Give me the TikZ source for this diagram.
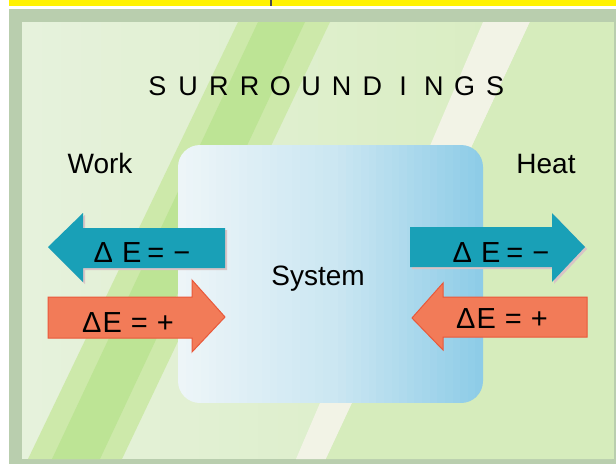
\documentclass[tikz,border=0pt]{standalone}
\usepackage{fontspec}
\setmainfont{Liberation Sans}
\definecolor{frameGreen}{HTML}{B9CEAE}
\definecolor{bgLeft}{HTML}{E6F2DC}
\definecolor{bgRight}{HTML}{D6ECBC}
\definecolor{bandGreen}{HTML}{BDE495}
\definecolor{bandSoft}{HTML}{CDE9AA}
\definecolor{wedgeWhite}{HTML}{F2F3E6}
\definecolor{sysLeft}{HTML}{EDF5F8}
\definecolor{sysMid}{HTML}{CCE7F2}
\definecolor{sysRight}{HTML}{8ECCE7}
\definecolor{tealArrow}{HTML}{19A0B7}
\definecolor{redArrow}{HTML}{F27B58}
\definecolor{redEdge}{HTML}{E9583A}
\definecolor{shadowPink}{HTML}{D8C4C6}
\begin{document}
\begin{tikzpicture}[x=1pt,y=-1pt,
  lbl/.style={font=\fontsize{28}{30}\selectfont, inner sep=0pt, anchor=base, text=black},
  arrowlbl/.style={font=\fontsize{29}{30}\selectfont, inner sep=0pt, anchor=base, text=black},
  tealfill/.style={fill=tealArrow, draw=none},
  redfill/.style={fill=redArrow, draw=redEdge, line width=1pt},
  shadowfill/.style={fill=shadowPink, draw=none}]
\useasboundingbox (0,0) rectangle (616,464);
% page and frame
\fill[white] (0,0) rectangle (616,464);
\fill[yellow] (9,0) rectangle (616,6);
\fill[black!70] (270,0) rectangle (272,6);
\fill[frameGreen] (9,9) rectangle (616,464);
% background picture: left-to-right gradient made of strips
\foreach \k in {0,...,29}{
  \pgfmathsetmacro{\pc}{100-\k*100/29}
  \fill[bgLeft!\pc!bgRight] ({22+\k*19.7},22) rectangle ({22+(\k+1)*19.7+0.5},459);
}
\fill[bandSoft] (238,22) -- (330,22) -- (122,459) -- (28,459) -- cycle;
\fill[bandGreen] (258,22) -- (305,22) -- (100,459) -- (52,459) -- cycle;
\fill[wedgeWhite] (483,22) -- (530,22) -- (326,459) -- (296,459) -- cycle;
\fill[bgRight] (530,22) -- (612,22) -- (612,459) -- (326,459) -- cycle;
% system box with a strip gradient, clipped to a rounded rectangle
\begin{scope}
  \clip[rounded corners=22pt] (178,145) rectangle (483,403);
  \foreach \k in {0,...,39}{
    \pgfmathsetmacro{\pa}{max(0,100-\k*100/19)}
    \pgfmathsetmacro{\pb}{max(0,100-(\k-20)*100/19)}
    \ifnum\k<20
      \fill[sysLeft!\pa!sysMid] ({178+\k*7.625},145) rectangle ({178+(\k+1)*7.625+0.5},403);
    \else
      \fill[sysMid!\pb!sysRight] ({178+\k*7.625},145) rectangle ({178+(\k+1)*7.625+0.5},403);
    \fi
  }
\end{scope}
% arrow shadows
\path[shadowfill, shift={(2,2)}] (225,228) -- (83,228) -- (83,213) -- (48,247) -- (83,282) -- (83,268) -- (225,268) -- cycle;
\path[shadowfill, shift={(2,2)}] (410,227) -- (552,227) -- (552,213) -- (585,247) -- (552,282) -- (552,267) -- (410,267) -- cycle;
% work arrows
\path[tealfill] (225,228) -- (83,228) -- (83,213) -- (48,247) -- (83,282) -- (83,268) -- (225,268) -- cycle;
\path[redfill] (48,297) -- (192,297) -- (192,280) -- (225,317) -- (192,352) -- (192,338) -- (48,338) -- cycle;
% heat arrows
\path[tealfill] (410,227) -- (552,227) -- (552,213) -- (585,247) -- (552,282) -- (552,267) -- (410,267) -- cycle;
\path[redfill] (587,297) -- (443,297) -- (443,283) -- (412,318) -- (443,350) -- (443,337) -- (587,337) -- cycle;
% texts
\foreach \ch [count=\i from 0] in {S,U,R,R,O,U,N,D,I,N,G,S}
  \node[lbl, font=\fontsize{27}{30}\selectfont] (sur\i) at (157.5+\i*30.7,95) {\ch};
\node[lbl] (work) at (100,173) {Work};
\node[lbl] (heat) at (546,173) {Heat};
\node[lbl] (system) at (318,285) {System};
\node[arrowlbl] (wneg) at (142,262) {Δ\hspace{9pt}E\hspace{6pt}=\hspace{9pt}−};
\node[arrowlbl] (wpos) at (128,332) {Δ\hspace{1pt}E\hspace{9pt}=\hspace{9pt}+};
\node[arrowlbl] (hneg) at (501,262) {Δ\hspace{9pt}E\hspace{6pt}=\hspace{9pt}−};
\node[arrowlbl] (hpos) at (502,328) {Δ\hspace{1pt}E\hspace{9pt}=\hspace{9pt}+};
\end{tikzpicture}
\end{document}
